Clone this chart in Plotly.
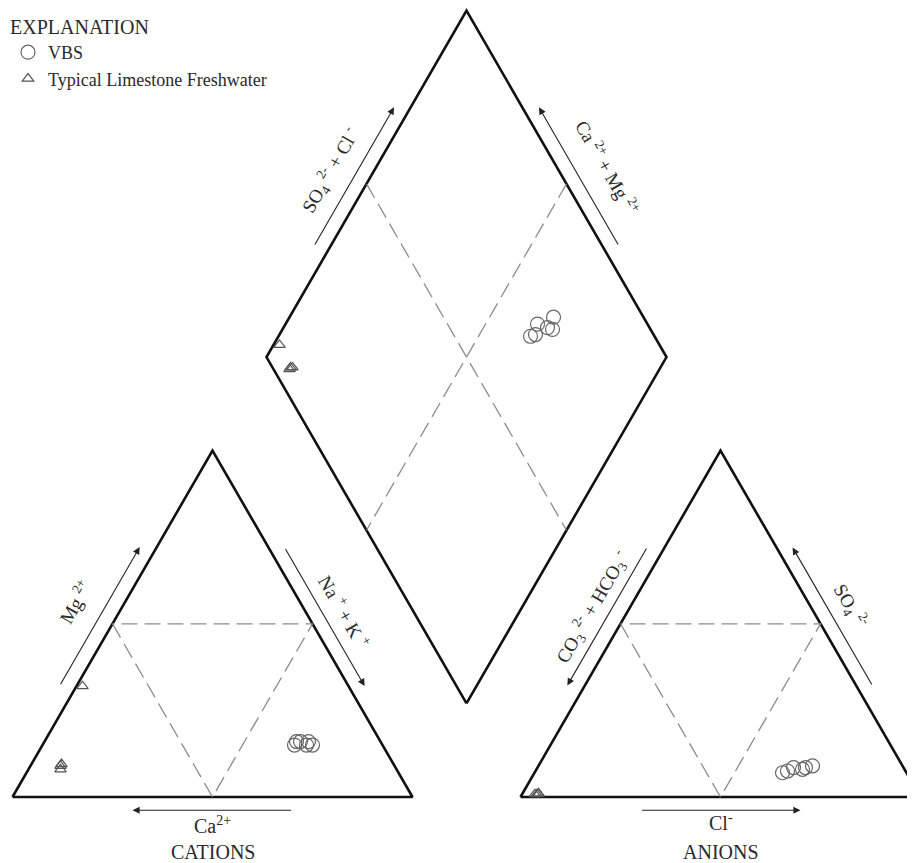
import numpy as np
import plotly.graph_objects as go

# Piper diagram, percent of total milliequivalents
vbs_ca = [22, 21, 19, 18, 20, 17.5]
vbs_mg = [15, 16, 15, 16, 16, 15]
vbs_nak = [63, 63, 66, 66, 64, 67.5]
vbs_co3 = [31, 27.5, 25.5, 22.5, 29.5, 24.5]
vbs_so4 = [7, 8.5, 8, 9, 7.5, 8.5]
vbs_cl = [62, 64, 66.5, 68.5, 63, 67]

lime_ca = [66.5, 83, 84, 83.5]
lime_mg = [32, 9.5, 8, 9]
lime_nak = [1.5, 7.5, 8, 7.5]
lime_co3 = [95, 95.5, 95, 96]
lime_so4 = [1, 0.8, 1, 0.8]
lime_cl = [4, 3.7, 4, 3.2]

H = np.sqrt(3) / 2
GAP = 27
FONT = "Liberation Serif"

# corners
L, R, A = (0, 0), (100, 0), (50, 100 * H)
L2, R2, A2 = (100 + GAP, 0), (200 + GAP, 0), (150 + GAP, 100 * H)
DB = (100 + GAP / 2, GAP * H)
DL = (50 + GAP / 2, (100 + GAP) * H)
DT = (100 + GAP / 2, (200 + GAP) * H)
DR = (150 + GAP / 2, (100 + GAP) * H)


def mid(p, q):
    return ((p[0] + q[0]) / 2, (p[1] + q[1]) / 2)


def along(p, q, t, d=0):
    # point at fraction t of p->q, pushed d units to the left of the direction
    dx, dy = q[0] - p[0], q[1] - p[1]
    n = np.hypot(dx, dy)
    return p[0] + t * dx - d * dy / n, p[1] + t * dy + d * dx / n


def piper(ca, mg, nak, co3, so4, cl):
    cx = [n + m / 2 for m, n in zip(mg, nak)]
    cy = [m * H for m in mg]
    axx = [100 + GAP + c + s / 2 for s, c in zip(so4, cl)]
    ayy = [s * H for s in so4]
    dx, dy = [], []
    for xc, yc, xa, ya in zip(cx, cy, axx, ayy):
        t = (2 * (xa - xc) + (ya - yc) / H) / 2
        dx.append(xc + t / 2)
        dy.append(yc + t * H)
    return cx + axx + dx, cy + ayy + dy


fig = go.Figure()

# outlines
for poly in [[L, A, R, L], [L2, A2, R2, L2], [DB, DL, DT, DR, DB]]:
    fig.add_trace(go.Scatter(x=[p[0] for p in poly], y=[p[1] for p in poly],
                             mode="lines", line=dict(color="#111", width=2.6),
                             hoverinfo="skip", showlegend=False))

# dashed subdivisions
dash = dict(color="#8c8c8c", width=1.3, dash="16px,7px")
for (p, q, r) in [(L, A, R), (L2, A2, R2)]:
    m1, m2, m3 = mid(p, q), mid(q, r), mid(p, r)
    pts = [m1, m3, m2, m1]
    fig.add_trace(go.Scatter(x=[a[0] for a in pts], y=[a[1] for a in pts], mode="lines",
                             line=dash, hoverinfo="skip", showlegend=False))
for p, q in [(mid(DL, DT), mid(DB, DR)), (mid(DT, DR), mid(DL, DB))]:
    fig.add_trace(go.Scatter(x=[p[0], q[0]], y=[p[1], q[1]], mode="lines",
                             line=dash, hoverinfo="skip", showlegend=False))

# samples
vx, vy = piper(vbs_ca, vbs_mg, vbs_nak, vbs_co3, vbs_so4, vbs_cl)
lx, ly = piper(lime_ca, lime_mg, lime_nak, lime_co3, lime_so4, lime_cl)
fig.add_trace(go.Scatter(x=vx, y=vy, mode="markers", name="VBS",
                         marker=dict(symbol="circle-open", size=14, color="#666",
                                     line=dict(width=1.2))))
fig.add_trace(go.Scatter(x=lx, y=ly, mode="markers", name="Typical Limestone Freshwater",
                         marker=dict(symbol="triangle-up-open", size=10, color="#555",
                                     line=dict(width=1.2))))

# arrows: (edge start, edge end, tail t, head t, offset)
arrows = [
    (L, A, 0.3, 0.7, 3.7),
    (A, R, 0.3, 0.7, 3.5),
    (R, L, 0.3, 0.7, 3.3),
    (L2, A2, 0.7, 0.3, 3.8),
    (A2, R2, 0.7, 0.3, 3.5),
    (R2, L2, 0.7, 0.3, 3.3),
    (DL, DT, 0.3, 0.7, 3.6),
    (DT, DR, 0.7, 0.3, 3.6),
]
ann = []
for p, q, t0, t1, d in arrows:
    tx, ty = along(p, q, t0, d)
    hx, hy = along(p, q, t1, d)
    ann.append(dict(x=hx, y=hy, ax=tx, ay=ty, xref="x", yref="y", axref="x", ayref="y",
                    text="", showarrow=True, arrowhead=2, arrowsize=1.3, arrowwidth=1.1,
                    arrowcolor="#222"))

# labels: (edge start, edge end, t, offset, text, angle, size)
labels = [
    (L, A, 0.5, 11, "Mg <sup>2+</sup>", -60, 19),
    (A, R, 0.515, 8.5, "Na <sup>+</sup> + K <sup>+</sup>", 60, 19),
    (L2, A2, 0.5, 8.2, "CO<sub>3</sub> <sup>2-</sup> + HCO<sub>3</sub> <sup>-</sup>", -60, 19),
    (A2, R2, 0.5, 8.8, "SO<sub>4</sub> <sup>2-</sup>", 60, 19),
    (DL, DT, 0.484, 9.6, "SO<sub>4</sub> <sup>2-</sup> + Cl <sup>-</sup>", -60, 19),
    (DT, DR, 0.515, 11, "Ca <sup>2+</sup> + Mg <sup>2+</sup>", 60, 19),
    (R, L, 0.5, 7, "Ca<sup>2+</sup>", 0, 20),
    (R, L, 0.5, 13.8, "CATIONS", 0, 20),
    (R2, L2, 0.5, 6.3, "Cl<sup>-</sup>", 0, 20),
    (R2, L2, 0.5, 13.8, "ANIONS", 0, 20),
]
for p, q, t, d, txt, ang, sz in labels:
    x, y = along(p, q, t, d)
    ann.append(dict(x=x, y=y, xref="x", yref="y", text=txt, textangle=ang, showarrow=False,
                    xanchor="center", yanchor="middle",
                    font=dict(family=FONT, size=sz, color="#2a2a2a")))

# page body has an 8px margin, so the figure is 8px smaller than the window
fig.update_layout(
    width=907, height=855,
    margin=dict(l=0, r=0, t=0, b=0),
    paper_bgcolor="white", plot_bgcolor="white",
    xaxis=dict(range=[-1.125, 225.625], visible=False, fixedrange=True),
    yaxis=dict(range=[-16.5, 197.25], visible=False, fixedrange=True),
    annotations=ann,
    legend=dict(x=0, y=1, xanchor="left", yanchor="top",
                title=dict(text="EXPLANATION", font=dict(family=FONT, size=20, color="#2a2a2a")),
                font=dict(family=FONT, size=18, color="#2a2a2a"),
                bgcolor="rgba(0,0,0,0)", tracegroupgap=0, itemwidth=30),
)

fig.write_html("out.html", config={"displayModeBar": False})
